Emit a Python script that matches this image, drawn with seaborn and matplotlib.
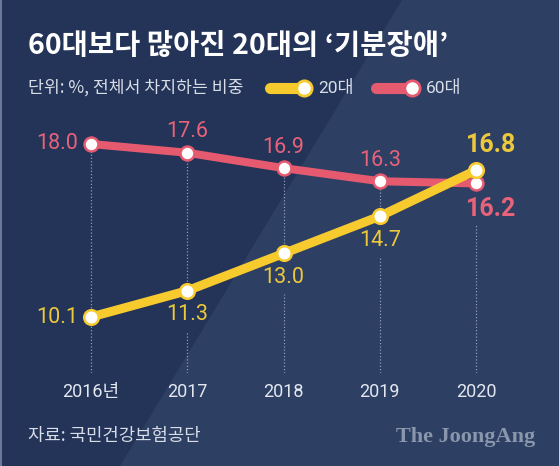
import matplotlib
matplotlib.use("Agg")
import matplotlib.pyplot as plt
from matplotlib.lines import Line2D
from matplotlib.patches import Polygon, Rectangle
import seaborn as sns

# data
years = [2016, 2017, 2018, 2019, 2020]
year_labels = ["2016년", "2017", "2018", "2019", "2020"]
twenties = [10.1, 11.3, 13.0, 14.7, 16.8]
sixties = [18.0, 17.6, 16.9, 16.3, 16.2]

YELLOW = "#f7ca2e"
PINK = "#e65a70"
YELLOW_TXT = "#ecc83c"
PINK_TXT = "#e8627a"
BG_LIGHT = "#2e3f64"
BG_DARK = "#233458"
GRID = "#8e9bb6"

sns.set_theme(style="white")
plt.rcParams["font.family"] = ["Noto Sans CJK KR", "DejaVu Sans"]

W, H = 559, 466
fx = lambda x: x / W
fy = lambda y: 1 - y / H

fig = plt.figure(figsize=(W / 100, H / 100), dpi=100)
fig.patch.set_facecolor(BG_LIGHT)
fig.add_artist(Polygon([(0, 1), (fx(402), 1), (fx(120), 0), (0, 0)],
                       closed=True, transform=fig.transFigure,
                       facecolor=BG_DARK, edgecolor="none", zorder=0))
fig.add_artist(Rectangle((0, 0), fx(2), 1, transform=fig.transFigure,
                         facecolor="#6a7a98", edgecolor="none", zorder=0))

ax = fig.add_axes([0, fy(373), 1, fy(110) - fy(373)])
ax.set_facecolor("none")
ax.set_xlim(2016 - 91 / 96.25, 2016 + (559 - 91) / 96.25)
ax.set_ylim(18 - (373 - 144) / 21.9, 18 + (144 - 110) / 21.9)
for s in ax.spines.values():
    s.set_visible(False)

# dotted guides, broken where the lower label sits
ymin = ax.get_ylim()[0]
for i, (yr, a, b) in enumerate(zip(years, twenties, sixties)):
    lo, hi = min(a, b), max(a, b)
    ls = (0, (1, 1.6))
    if i == 0:
        ax.vlines(yr, ymin, hi, color=GRID, lw=0.9, linestyle=ls, zorder=1)
    else:
        if i < len(years) - 1:
            ax.vlines(yr, lo, hi, color=GRID, lw=0.9, linestyle=ls, zorder=1)
        ax.vlines(yr, ymin, lo - 1.85, color=GRID, lw=0.9, linestyle=ls, zorder=1)

sns.lineplot(x=years, y=sixties, ax=ax, color=PINK, lw=5.8, marker="o",
             markersize=10, markerfacecolor="white", markeredgecolor=PINK,
             markeredgewidth=1.8, solid_capstyle="round", zorder=3)
sns.lineplot(x=years, y=twenties, ax=ax, color=YELLOW, lw=6.5, marker="o",
             markersize=10.5, markerfacecolor="white", markeredgecolor=YELLOW,
             markeredgewidth=1.8, solid_capstyle="round", zorder=4)

num_font = ["Roboto", "Noto Sans CJK KR"]
last = len(years) - 1
for i, (yr, a, b) in enumerate(zip(years, twenties, sixties)):
    if i == 0:
        for v, c in ((a, YELLOW_TXT), (b, PINK_TXT)):
            ax.annotate(f"{v:.1f}", (yr, v), xytext=(-13, 0), textcoords="offset pixels",
                        ha="right", va="center", fontsize=15.5, color=c, family=num_font)
    elif i == last:
        ax.annotate(f"{a:.1f}", (yr, a), xytext=(15, 25), textcoords="offset pixels",
                    ha="center", va="center", fontsize=18, weight="bold",
                    color=YELLOW_TXT, family=num_font)
        ax.annotate(f"{b:.1f}", (yr, b), xytext=(15, -26), textcoords="offset pixels",
                    ha="center", va="center", fontsize=18, weight="bold",
                    color=PINK_TXT, family=num_font)
    else:
        ax.annotate(f"{b:.1f}", (yr, b), xytext=(0, 21), textcoords="offset pixels",
                    ha="center", va="center", fontsize=15.5, color=PINK_TXT, family=num_font)
        ax.annotate(f"{a:.1f}", (yr, a), xytext=(0, -24), textcoords="offset pixels",
                    ha="center", va="center", fontsize=15.5, color=YELLOW_TXT, family=num_font)

ax.set_xticks(years)
ax.set_xticklabels(year_labels, family=num_font)
ax.set_yticks([])
ax.tick_params(axis="x", length=0, pad=7, labelsize=13, labelcolor="#e3e7ef")
ax.set_xlabel("")
ax.set_ylabel("")

# title, subtitle, legend
fig.text(fx(28), fy(46), "60대보다 많아진 20대의 ‘기분장애’", ha="left", va="center",
         fontsize=20.5, weight="bold", color="white")
fig.text(fx(28), fy(88), "단위: %, 전체서 차지하는 비중", ha="left", va="center",
         fontsize=12.4, color="#d8dde8")
for x0, x1, c, lab in ((270, 304, YELLOW, "20대"), (376, 412, PINK, "60대")):
    fig.add_artist(Line2D([fx(x0), fx(x1)], [fy(88), fy(88)], transform=fig.transFigure,
                          color=c, lw=8, solid_capstyle="round"))
    fig.add_artist(Line2D([fx(x1)], [fy(88)], transform=fig.transFigure, marker="o",
                          markersize=11, markerfacecolor="white", markeredgecolor=c,
                          markeredgewidth=2))
    fig.text(fx(x1 + 14), fy(88), lab, ha="left", va="center", fontsize=12.5,
             color="#d8dde8", family=num_font)

fig.text(fx(28), fy(436), "자료: 국민건강보험공단", ha="left", va="center",
         fontsize=12.8, color="#d8dde8")
fig.text(fx(535), fy(437), "The JoongAng", ha="right", va="center", fontsize=16,
         weight="bold", color="#8a96ab", family="Liberation Serif")

fig.savefig("out.png", dpi=100, facecolor=fig.get_facecolor())
